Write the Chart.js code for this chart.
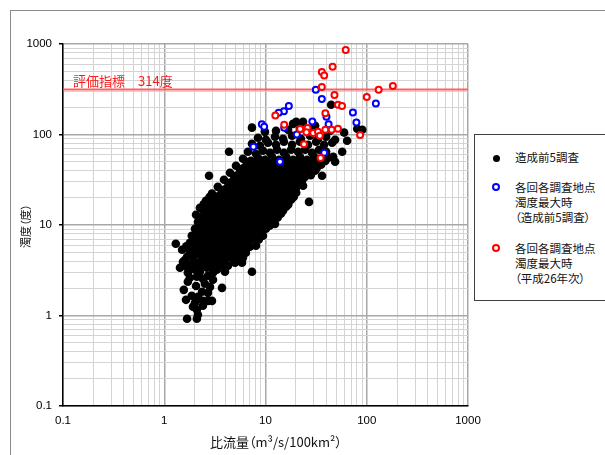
<!DOCTYPE html>
<html>
<head>
<meta charset="utf-8">
<script src="https://cdn.jsdelivr.net/npm/chart.js@4.4.1/dist/chart.umd.min.js"></script>
<style>
  html, body { margin:0; padding:0; background:#fff; overflow:hidden; }
  #wrap { position:relative; width:605px; height:455px; overflow:hidden; }
  #frame { position:absolute; left:10px; top:10px; width:700px; height:600px; border:1px solid #8a8a8a; }
  #c { position:absolute; left:0; top:0; }
  #legend { position:absolute; left:474px; top:134px; width:200px; height:165px; border:1px solid #404040; background:#fff; }
  .jp { font-family:"Noto Sans CJK JP", sans-serif; font-feature-settings:"palt"; color:#111; white-space:nowrap; }
  .lt { position:absolute; left:515px; height:15px; line-height:15px; font-size:11.5px; }
  .mk { position:absolute; box-sizing:border-box; border-radius:50%; }
  #xt { position:absolute; left:0; width:552px; top:434px; height:16px; line-height:16px; font-size:13px; text-align:center; }
  #yt { position:absolute; left:-25px; top:218px; width:100px; height:16px; line-height:16px; font-size:11px; text-align:center; transform:rotate(-90deg); }
</style>
</head>
<body>
<div id="wrap">
  <div id="frame"></div>
  <canvas id="c" width="605" height="455"></canvas>
  <div id="xt" class="jp"></div>
  <div id="yt" class="jp"></div>
  <div id="legend"></div>
  <span class="mk" style="left:492.5px;top:154.5px;width:7px;height:7px;background:#000;"></span>
  <div class="lt jp" style="top:150px;">造成前5調査</div>
  <span class="mk" style="left:492px;top:183px;width:8px;height:8px;border:2px solid #0000ff;background:#fff;"></span>
  <div class="lt jp" style="top:179.5px;">各回各調査地点</div>
  <div class="lt jp" style="top:194.5px;">濁度最大時</div>
  <div class="lt jp" style="top:209.5px;">（造成前5調査）</div>
  <span class="mk" style="left:492px;top:244px;width:8px;height:8px;border:2px solid #ff0000;background:#fff;"></span>
  <div class="lt jp" style="top:240.5px;">各回各調査地点</div>
  <div class="lt jp" style="top:255.5px;">濁度最大時</div>
  <div class="lt jp" style="top:270.5px;">（平成26年次）</div>
</div>
<script>
// axis ranges / ticks
const X_MIN = 0.1, X_MAX = 1000;
const Y_MIN = 0.1, Y_MAX = 1000;
const DECADES = [0.1, 1, 10, 100];
const STEPS = [1, 2, 3, 4, 5, 6, 7, 8, 9];
const REF_VALUE = 314;
const REF_LABEL = "評価指標　314度";
const X_TITLE = "比流量（m³/s/100km²）";
const Y_TITLE = "濁度（度）";

// 造成前5調査 (black dots), outer rows
const BLACK_X = [
  1.68,2.1,2.15, 1.92,2.1,2.41, 1.64,2.01,2.41,2.7,2.96,
  1.56,1.87,2.15,2.36,2.7, 1.71,2.06,2.52,2.83,3.72,
  1.79,2.1,2.41,3.03,2.7, 1.43,1.71,2.01,2.25,2.64,3.03,3.31,3.98,7.35,
  1.53,1.79,2.1,2.52,2.96,3.55,4.26,5.0,5.86,
  1.68,1.92,2.25,2.7,3.16,3.72,4.46,5.11,5.99,
  1.5,1.79,2.06,2.46,2.83,3.31,3.89,4.56,5.35,6.27,7.02,
  1.3,1.79,2.15,2.52,2.96,3.47,4.07,4.77,5.6,6.57,8.05,
  1.87,2.25,2.64,3.09,3.63,4.26,5.0,5.86,6.86,8.24,9.44,
  2.01,2.41,2.83,3.31,3.89,4.56,5.35,6.27,7.35,8.62,10.1,
  2.15,2.58,3.03,3.55,4.16,4.89,5.73,6.71,7.87,9.22,10.8,12.4,
  2.06,2.46,2.9,3.38,3.98,4.67,5.47,6.41,7.52,8.82,10.3,12.1,14.2,
  2.25,2.77,3.23,3.8,4.46,5.23,6.13,7.18,8.43,9.88,11.6,13.6,16.0,
  2.58,3.09,3.63,4.26,5.0,5.86,6.86,8.05,9.44,11.1,13.0,15.2,17.9,26.9,
  2.96,3.47,4.07,4.77,5.6,6.57,7.69,9.02,10.6,12.4,14.5,17.1,20.1,
  2.77,3.38,4.07,4.77,5.6,6.57,7.69,9.02,10.6,12.4,14.5,17.1,20.1,23.5,
  3.89,4.67,5.47,6.41,7.52,8.82,10.3,12.1,14.2,16.7,19.6,23.0,36.2,
  4.46,5.35,6.27,7.35,8.62,10.1,11.9,13.9,16.3,19.2,22.4,26.3,30.9,
  5.11,6.13,7.18,8.43,9.88,11.6,13.6,16.0,18.7,21.9,25.7,30.2,35.4,
  4.36,5.99,7.18,8.43,9.88,11.6,13.6,16.0,18.7,21.9,25.7,30.2,41.5,46.6,48.7,
  6.71,8.05,9.44,11.1,13.0,15.2,17.9,21.0,24.6,28.8,33.8,39.7,57.2,
  7.35,8.82,10.6,12.7,15.2,18.3,21.9,26.3,31.6,37.9,45.5,64.0,
  8.43,10.1,12.4,14.9,18.3,22.4,27.5,33.1,39.7,48.7,59.8,
  7.35,9.88,12.7,16.7,21.9,28.8,43.5,80.5,90.3,
  18.7,20.1,23.5,30.9,44.5
];
const BLACK_Y = [
  0.92,0.92,1.02, 1.25,1.16,1.28, 1.49,1.38,1.45,1.45,1.45,
  1.92,1.65,1.61,1.83,1.78, 2.36,2.12,2.24,2.07,2.02,
  2.61,2.68,2.54,2.48,2.75, 3.37,2.97,3.2,3.04,3.37,2.97,3.2,3.04,3.04,
  3.93,3.64,3.83,3.93,3.73,4.03,3.55,3.83,3.83,
  4.46,4.46,4.69,4.35,4.57,4.24,4.46,4.81,4.35,
  5.33,5.2,5.47,5.33,5.07,5.61,5.2,5.47,5.07,5.33,5.75,
  6.21,6.37,6.05,6.53,6.21,6.7,6.21,6.53,6.05,6.7,5.9,
  7.6,7.23,7.8,7.41,8.0,7.41,8.0,7.41,8.0,7.23,7.6,
  9.09,8.64,9.33,8.86,9.57,8.86,9.57,8.86,9.09,8.64,9.09,
  10.8,10.3,11.1,10.6,11.4,10.6,11.4,10.6,11.4,10.6,11.1,10.3,
  13.0,12.4,13.3,12.7,13.7,12.7,13.7,12.7,13.7,12.7,13.7,12.7,13.3,
  15.5,14.7,15.9,15.1,16.3,15.1,16.3,15.1,16.3,15.1,16.3,15.1,15.9,
  18.5,17.6,19.0,18.0,19.5,18.0,19.5,18.0,19.5,18.0,19.5,18.0,19.0,18.0,
  22.2,21.0,22.7,21.6,23.3,21.6,23.3,21.6,23.3,21.6,23.3,21.6,22.7,
  35.0,26.4,25.1,27.1,25.8,27.8,25.8,27.8,25.8,27.8,25.8,27.8,25.8,27.1,
  31.6,30.0,32.4,30.8,33.3,30.8,33.3,30.8,33.3,30.8,33.3,30.8,35.0,
  37.8,35.9,38.8,36.8,39.8,36.8,39.8,36.8,39.8,36.8,39.8,37.8,39.8,
  45.1,42.9,46.3,44.0,47.5,44.0,47.5,44.0,47.5,44.0,47.5,44.0,46.3,
  64.4,54.0,51.3,55.4,52.6,56.8,52.6,56.8,52.6,56.8,52.6,56.8,55.4,56.8,50.0,
  64.4,61.3,66.1,62.9,67.8,62.9,67.8,64.4,67.8,62.9,67.8,64.4,64.4,
  79.0,75.0,81.0,77.0,83.1,77.0,83.1,77.0,83.1,77.0,81.0,85.3,
  92.0,87.5,94.4,89.8,96.9,89.8,96.9,89.8,94.4,87.5,105,
  119,107,110,113,116,116,110,116,113,
  131,138,138,125,213
];

// 造成前5調査 (black dots), dense core between the rows above
const BLACK_X2 = [
  1.62,1.9,2.3,2.75,3.2,3.8,
  1.6,1.95,2.35,2.85,3.4,4.0,4.8,5.5,
  1.8,2.1,2.5,2.95,3.5,4.1,4.8,5.6,6.4,
  1.65,1.95,2.3,2.7,3.1,3.7,4.3,5.0,5.9,6.8,
  2.0,2.4,2.8,3.25,3.8,4.5,5.3,6.2,7.3,8.6,
  2.1,2.5,2.95,3.5,4.1,4.8,5.6,6.5,7.7,9.0,
  2.2,2.6,3.06,3.6,4.2,4.95,5.8,6.8,7.95,9.3,11.0,
  2.35,2.8,3.3,3.85,4.5,5.3,6.2,7.3,8.5,10.0,11.5,13.2,
  2.45,2.95,3.45,4.1,4.8,5.6,6.6,7.8,9.2,10.8,12.7,14.9,
  2.45,2.9,3.4,4.0,4.7,5.5,6.5,7.6,8.9,10.4,12.3,14.3,16.8,
  2.8,3.3,3.85,4.5,5.3,6.2,7.3,8.5,10.0,11.7,13.7,16.1,19.0,
  3.7,4.4,5.2,6.1,7.1,8.3,9.8,11.5,13.4,15.7,18.5,
  4.3,5.0,5.9,6.9,8.1,9.5,11.2,13.1,15.4,18.1,21.3,
  4.9,5.8,6.8,8.0,9.3,11.0,12.9,15.1,17.7,20.8,24.5,28.0,
  5.6,6.6,7.7,9.0,10.6,12.5,14.7,17.3,20.3,23.8,28.0,32.0,
  6.5,7.7,9.1,10.7,12.6,14.7,17.3,20.3,23.8,28.0,33.0,39.0
];
const BLACK_Y2 = [
  3.5,3.45,3.55,3.5,3.45,3.55,
  4.1,4.05,4.15,4.1,4.05,4.15,4.1,4.05,
  4.9,4.85,4.95,4.9,4.85,4.95,4.9,4.85,4.95,
  5.8,5.7,5.9,5.8,5.7,5.9,5.8,5.7,5.9,5.8,
  6.9,6.8,7.0,6.9,6.8,7.0,6.9,6.8,7.0,6.9,
  8.2,8.1,8.3,8.2,8.1,8.3,8.2,8.1,8.3,8.2,
  9.9,9.8,10.0,9.9,9.8,10.0,9.9,9.8,10.0,9.9,9.8,
  11.9,11.7,12.1,11.9,11.7,12.1,11.9,11.7,12.1,11.9,11.7,12.1,
  14.2,14.0,14.4,14.2,14.0,14.4,14.2,14.0,14.4,14.2,14.0,14.4,
  16.9,16.6,17.2,16.9,16.6,17.2,16.9,16.6,17.2,16.9,16.6,17.2,16.9,
  20.4,20.0,20.8,20.4,20.0,20.8,20.4,20.0,20.8,20.4,20.0,20.8,20.4,
  24.3,23.9,24.7,24.3,23.9,24.7,24.3,23.9,24.7,24.3,23.9,
  29,28.5,29.5,29,28.5,29.5,29,28.5,29.5,29,28.5,
  34.7,34,35.4,34.7,34,35.4,34.7,34,35.4,34.7,34,35.4,
  41.5,40.7,42.3,41.5,40.7,42.3,41.5,40.7,42.3,41.5,40.7,42.3,
  50,49,51,50,49,51,50,49,51,50,49,51
];

// 各回各調査地点 濁度最大時（造成前5調査） (blue rings)
const BLUE_X = [31.4,36,123,73,79,29,40,42,38,20.4,17,15.2,13.5,15.3,9.2,9.7,7.6,13.9];
const BLUE_Y = [312,246,220,175,136,139,157,130,63,100,207,181,174,119,130,122,73,50];

// 各回各調査地点 濁度最大時（平成26年次） (red rings)
const RED_X = [62,46,36,38,36,48,52,57,100,131,181,39,86,35,24,12.5,15.3,22,26,25.4,29.6,33,34.4,39,45,52];
const RED_Y = [860,560,490,450,335,273,213,207,259,312,343,172,99,55,78,162,128,115,118,106,104,107,97,113,113,116];

function pts(xs, ys) { return xs.map((x, i) => ({ x, y: ys[i] })); }
function isDecade(v) { const l = Math.log10(v); return Math.abs(l - Math.round(l)) < 1e-6; }

const TICK_VALUES = [];
DECADES.forEach(d => STEPS.forEach(s => TICK_VALUES.push(+(d * s).toPrecision(3))));
TICK_VALUES.push(1000);

document.getElementById("xt").textContent = X_TITLE;
document.getElementById("yt").textContent = Y_TITLE;

const gridOpts = {
  color: c => (c.tick && isDecade(c.tick.value)) ? "#a8a8a8" : "#d4d4d4",
  lineWidth: c => (c.tick && isDecade(c.tick.value)) ? 1.5 : 1,
  tickColor: c => (c.tick && isDecade(c.tick.value)) ? "#000" : "rgba(0,0,0,0)",
  tickLength: 4
};
const tickFont = { family: "'Liberation Sans', Arial, sans-serif", size: 11.5 };

const refLabel = {
  id: "refLabel",
  afterDatasetsDraw(chart) {
    const { ctx, chartArea, scales } = chart;
    const py = scales.y.getPixelForValue(REF_VALUE);
    ctx.save();
    ctx.font = "13px 'Noto Sans CJK JP', sans-serif";
    ctx.fillStyle = "#ff1a1a";
    ctx.textBaseline = "alphabetic";
    ctx.fillText(REF_LABEL, chartArea.left + 10, py - 4);
    ctx.restore();
  }
};

new Chart(document.getElementById("c"), {
  type: "scatter",
  data: {
    datasets: [
      { label: "各回各調査地点 濁度最大時（平成26年次）", data: pts(RED_X, RED_Y), order: 1,
        pointRadius: 3, borderWidth: 2, borderColor: "#ff0000", backgroundColor: "#fff" },
      { label: "各回各調査地点 濁度最大時（造成前5調査）", data: pts(BLUE_X, BLUE_Y), order: 2,
        pointRadius: 3, borderWidth: 2, borderColor: "#0000ff", backgroundColor: "#fff" },
      { label: "造成前5調査", data: pts(BLACK_X.concat(BLACK_X2), BLACK_Y.concat(BLACK_Y2)), order: 3,
        pointRadius: 4.3, borderWidth: 0, backgroundColor: "#000" },
      { label: "評価指標", data: [{ x: X_MIN, y: REF_VALUE }, { x: X_MAX, y: REF_VALUE }], order: 4,
        showLine: true, pointRadius: 0, borderColor: "rgba(255,80,80,0.9)", borderWidth: 2 }
    ]
  },
  options: {
    responsive: false,
    animation: false,
    layout: { padding: { top: 44, right: 137, bottom: 0, left: 0 } },
    plugins: { legend: { display: false }, tooltip: { enabled: false } },
    scales: {
      x: {
        type: "logarithmic", min: X_MIN, max: X_MAX,
        afterBuildTicks: s => { s.ticks = TICK_VALUES.map(v => ({ value: v })); },
        afterFit: s => { s.height = 49; },
        ticks: { autoSkip: false, maxRotation: 0, padding: 4, color: "#000", font: tickFont,
                 callback: v => isDecade(v) ? String(v) : "" },
        grid: { ...gridOpts, tickColor: "rgba(0,0,0,0)" },
        border: { display: true, color: "#000", width: 1.5 }
      },
      y: {
        type: "logarithmic", min: Y_MIN, max: Y_MAX,
        afterBuildTicks: s => { s.ticks = TICK_VALUES.map(v => ({ value: v })); },
        afterFit: s => { s.width = 63; },
        ticks: { autoSkip: false, padding: 7, color: "#000", font: tickFont,
                 callback: v => isDecade(v) ? String(v) : "" },
        grid: gridOpts,
        border: { display: true, color: "#000", width: 1.5 }
      }
    }
  },
  plugins: [refLabel]
});
</script>
</body>
</html>
